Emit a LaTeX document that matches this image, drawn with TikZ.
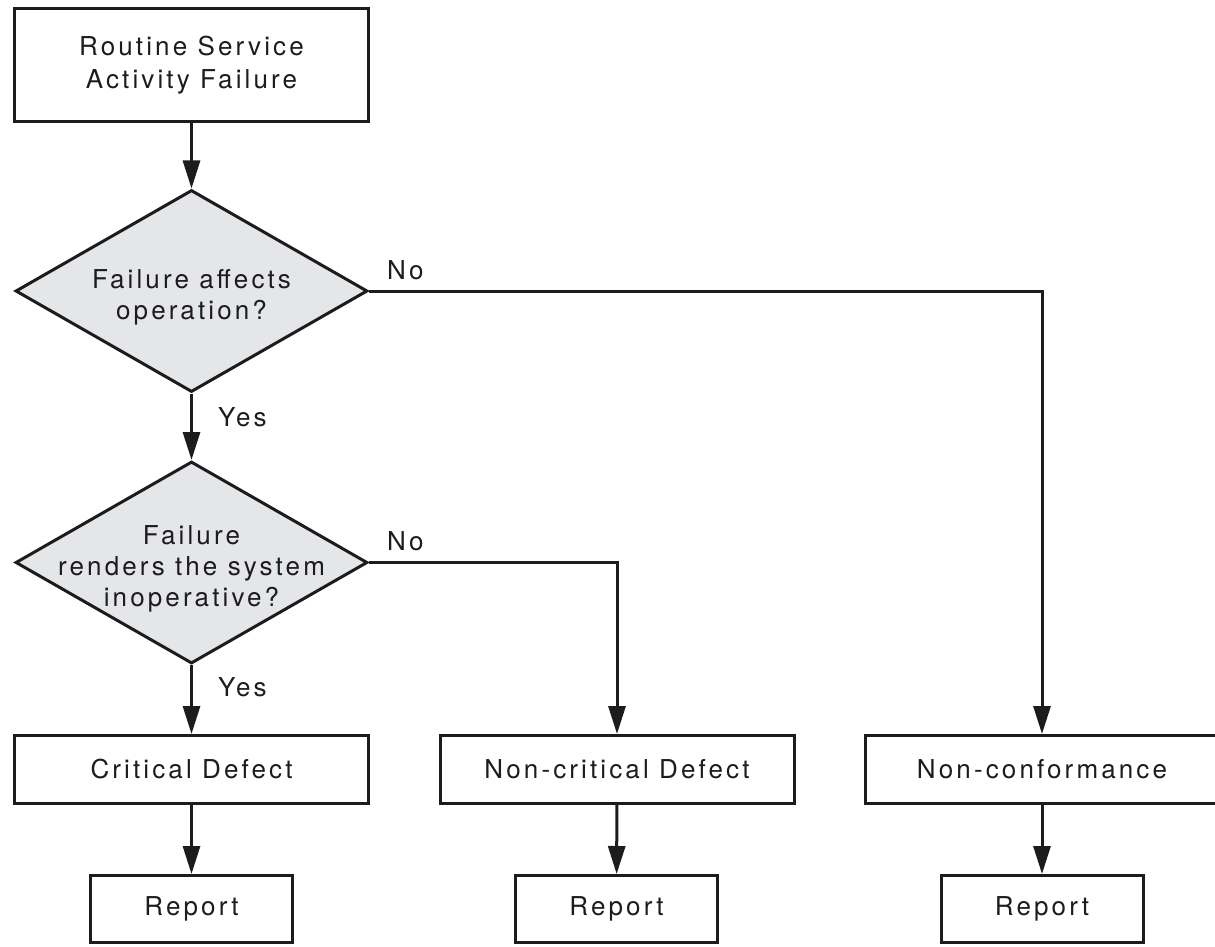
\documentclass[tikz,border=0pt]{standalone}
\usepackage{fontspec}
\setmainfont{TeX Gyre Heros}[LetterSpace=12]
\usetikzlibrary{arrows.meta,shapes.geometric}
\definecolor{ink}{RGB}{28,28,30}
\definecolor{dfill}{RGB}{229,230,231}
\begin{document}
\begin{tikzpicture}[x=1pt,y=-1pt,
  every node/.style={text=ink, font=\fontsize{26}{33}\selectfont},
  box/.style={draw=ink, line width=3pt, rectangle, inner sep=0pt, align=center,
    minimum width=354pt, minimum height=68pt},
  rep/.style={draw=ink, line width=3pt, rectangle, inner sep=0pt,
    minimum width=202pt, minimum height=67pt},
  decision/.style={draw=ink, fill=dfill, line width=3pt, diamond, inner sep=0pt,
    minimum width=352pt, minimum height=202pt},
  dtext/.style={align=center, yshift=-6pt, font=\fontsize{26}{31}\selectfont},
  lbl/.style={inner sep=0pt},
  arr/.style={draw=ink, line width=3pt, -{Triangle[length=28pt,width=17pt]}},
  ]
\clip (0,0) rectangle (1215,947);
\node[box, minimum height=113pt] (start) at (191.5,65) {Routine Service\\Activity Failure};
\node[decision, label={[dtext]center:Failure affects\\operation?}] (d1) at (191.5,291) {};
\node[decision, label={[dtext]center:Failure\\renders the system\\inoperative?}] (d2) at (191.5,562.5) {};
\node[box] (cd) at (191.5,769.5) {Critical Defect};
\node[box] (ncd) at (617,769.5) {Non-critical Defect};
\node[box] (nc) at (1042,769.5) {Non-conformance};
\node[rep] (r1) at (191.5,909) {Report};
\node[rep] (r2) at (616.5,909) {Report};
\node[rep] (r3) at (1042,909) {Report};

\draw[arr] (start) -- (d1);
\draw[arr] (d1) -- node[lbl, pos=0.35, anchor=west, xshift=25pt] (y1) {Yes} (d2);
\draw[arr] (d2) -- node[lbl, pos=0.32, anchor=west, xshift=25pt] (y2) {Yes} (cd);
\draw[arr] (d1.east) -| (nc.north);
\draw[arr] (d2.east) -| (ncd.north);
\node[lbl, anchor=base west] (n1) at ([xshift=18pt,yshift=12pt]d1.east) {No};
\node[lbl, anchor=base west] (n2) at ([xshift=18pt,yshift=12pt]d2.east) {No};
\draw[arr] (cd) -- (r1);
\draw[arr] (ncd) -- (r2);
\draw[arr] (nc) -- (r3);
\end{tikzpicture}
\end{document}
